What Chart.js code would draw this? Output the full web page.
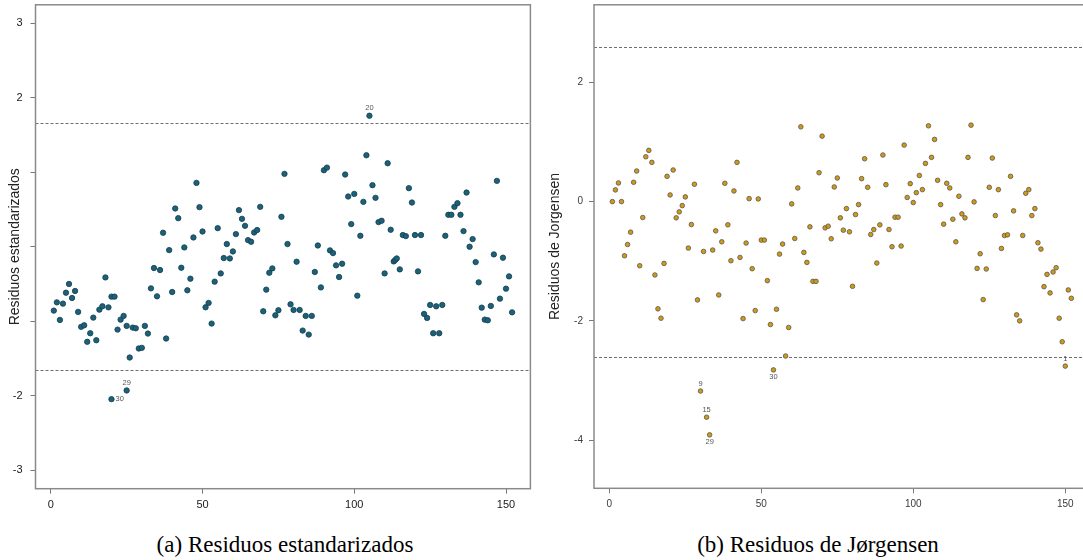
<!DOCTYPE html>
<html><head><meta charset="utf-8">
<script src="https://cdn.jsdelivr.net/npm/chart.js@4.4.1/dist/chart.umd.min.js"></script>
<style>
html,body{margin:0;padding:0;background:#fff;width:1083px;height:560px;overflow:hidden;position:relative;}
#wa{position:absolute;left:0;top:0;width:540px;height:520px;}
#wb{position:absolute;left:540px;top:0;width:560px;height:520px;}
.cap{position:absolute;top:532px;line-height:26px;font-family:'Liberation Serif',serif;font-size:23px;color:#000;white-space:nowrap;transform:translateX(-50%);}
</style></head><body>
<div id="wa"><canvas id="ca"></canvas></div>
<div id="wb"><canvas id="cb"></canvas></div>
<div class="cap" style="left:285px">(a) Residuos estandarizados</div>
<div class="cap" style="left:818px">(b) Residuos de Jørgensen</div>
<script>
// ---------- data ----------
const xTicks = [0, 50, 100, 150];
const leftYTicks = [-3, -2, -1, 0, 1, 2, 3];
const leftYTickLabels = ['-3', '-2', '', '', '', '2', '3'];
const rightYTicks = [-4, -2, 0, 2];
const rightYTickLabels = ['-4', '-2', '0', '2'];
const leftRefLines = [-1.66, 1.66];
const rightRefLines = [-2.6, 2.6];
const leftTitle = 'Residuos estandarizados';
const rightTitle = 'Residuos de Jorgensen';

const leftIndex = [1,2,3,4,5,6,7,8,9,10,11,12,13,14,15,16,17,18,19,20,20,21,22,23,24,25,25,26,27,28,29,30,
31,32,33,34,35,36,37,38,39,40,41,42,43,44,45,46,47,48,49,50,51,52,53,54,55,56,57,58,59,60,
61,62,63,64,65,66,67,68,69,70,71,72,73,74,75,76,77,78,79,80,81,82,83,84,85,86,87,88,89,90,
91,92,93,94,95,96,97,98,99,100,101,102,103,104,105,106,107,108,109,110,111,112,113,113.5,114,115,116,117,118,119,120,
121,122,123,124,125,126,127,128,129,130,131,132,133,134,135,136,137,138,139,140,141,142,143,144,145,146,147,148,149,150,151,152];
const leftResid = [-0.858,-0.747,-0.983,-0.764,-0.617,-0.500,-0.688,-0.594,-0.875,-1.076,-1.055,-1.277,-1.162,-0.952,-1.256,-0.845,-0.800,-0.412,-0.814,-0.670,-2.047,-0.670,-1.113,-0.979,-0.929,-1.063,-1.930,-1.488,-1.086,-1.095,-1.367,-1.358,
-1.063,-1.166,-0.559,-0.286,-0.666,-0.313,0.188,-1.233,-0.045,-0.608,0.514,0.384,-0.282,-0.009,-0.585,-0.429,0.125,0.858,0.532,0.205,-0.813,-0.755,-1.032,-0.469,0.250,-0.358,-0.152,0.036,-0.157,-0.063,
0.170,0.492,0.375,0.281,0.089,0.067,0.192,0.224,0.536,-0.867,-0.576,-0.349,-0.291,-0.921,-0.853,0.402,0.979,0.036,-0.773,-0.849,-0.201,-0.849,-1.126,-0.929,-1.180,-0.929,-0.339,0.017,-0.546,1.028,
1.063,-0.049,-0.085,-0.250,-0.407,-0.228,0.970,0.675,0.304,0.710,-0.657,0.147,0.603,1.229,1.760,0.827,0.657,0.331,0.349,-0.358,1.122,0.228,-0.197,-0.178,-0.157,-0.304,0.157,0.143,0.787,0.594,0.157,
-0.331,0.157,-0.902,-0.956,-0.782,-1.162,-0.800,-1.162,-0.782,0.147,0.429,0.429,0.536,0.585,0.429,0.210,0.728,0.000,0.103,-0.206,-0.478,-0.818,-0.979,-0.988,-0.795,-0.103,0.885,-0.697,-0.147,-0.563,-0.398,-0.881];

const rightIndex = [1,2,3,4,5,6,7,8,9,10,11,12,13,14,15,16,17,18,19,20,21,22,23,24,25,26,27,28,29,30,
31,32,33,34,35,36,37,38,39,40,41,42,43,44,45,46,47,48,49,50,51,52,53,54,55,56,57,58,59,60,
61,62,63,64,65,66,67,68,69,70,71,72,73,74,75,76,77,78,79,80,81,82,83,84,85,86,87,88,89,90,
91,92,93,94,95,96,97,98,99,100,101,102,103,104,105,106,107,108,109,110,111,112,113,114,115,116,117,118,119,120,
121,122,123,124,125,126,127,128,129,130,131,132,133,134,135,136,137,138,139,140,141,142,143,144,145,146,147,148,149,150,151,152];
const rightResid = [0.000,0.196,0.313,0.000,-0.908,-0.719,-0.512,0.324,0.513,-1.075,-0.267,0.752,0.859,0.658,-1.230,-1.798,-1.955,-1.036,0.424,0.112,0.530,-0.272,-0.172,-0.067,0.079,-0.779,-0.384,0.291,-1.648,-3.176,
-0.836,-3.615,-3.911,-0.812,-0.490,-1.565,-0.674,0.307,-0.389,-0.991,0.179,0.658,-0.936,-1.961,-0.695,0.050,-1.125,-1.827,0.045,-0.645,-0.645,-1.325,-2.061,-2.822,-1.805,-0.880,-0.712,-2.589,-2.111,-0.038,
-0.618,0.229,1.254,-0.852,-1.019,-0.423,-1.337,-1.337,0.485,1.098,-0.440,-0.412,-0.623,0.246,0.396,-0.272,-0.479,-0.117,-0.506,-1.420,-0.217,-0.050,0.385,0.719,0.240,-0.551,-0.468,-1.030,-0.390,0.781,
0.284,-0.468,-0.757,-0.261,-0.261,-0.745,0.948,0.070,0.301,-0.016,0.150,0.438,0.201,0.641,1.271,0.742,1.043,0.357,-0.050,-0.378,0.307,0.229,-0.295,-0.674,0.090,-0.206,-0.272,0.742,1.282,-0.005,
-1.120,-0.874,-1.643,-1.130,0.240,0.730,-0.234,0.201,-0.785,-0.568,-0.557,0.424,-0.155,-1.899,-1.999,-0.568,0.140,0.201,-0.234,-0.117,-0.690,-0.796,-1.426,-1.220,-1.531,-1.180,-1.108,-1.955,-2.350,-2.758,-1.481,-1.621];

// outlier annotations
const leftLabelX = [105, 25, 20];
const leftLabelY = [1.760, -1.930, -2.047];
const leftLabelText = ['20', '29', '30'];
const leftLabelSide = ['above', 'above', 'right'];
const rightLabelX = [30, 32, 33, 54, 150];
const rightLabelY = [-3.176, -3.615, -3.911, -2.822, -2.758];
const rightLabelText = ['9', '15', '29', '30', '1'];
const rightLabelSide = ['above', 'above', 'below', 'below', 'above'];

// ---------- drawing ----------
const framePlugin = {
  id: 'frame',
  beforeDatasetsDraw(chart, args, o) {
    const {ctx, chartArea: a, scales: {y}} = chart;
    ctx.save();
    ctx.strokeStyle = '#6e6e6e';
    ctx.lineWidth = 1;
    ctx.setLineDash([3, 2]);
    for (const v of o.refLines) {
      const py = Math.round(y.getPixelForValue(v)) + 0.5;
      ctx.beginPath(); ctx.moveTo(a.left, py); ctx.lineTo(a.right, py); ctx.stroke();
    }
    ctx.restore();
  },
  afterDatasetsDraw(chart, args, o) {
    const {ctx, chartArea: a, scales: {x, y}} = chart;
    ctx.save();
    ctx.font = '7.5px "Liberation Sans"';
    ctx.fillStyle = '#555';
    ctx.textBaseline = 'middle';
    o.labelX.forEach((lx, i) => {
      const px = x.getPixelForValue(lx), py = y.getPixelForValue(o.labelY[i]);
      const side = o.labelSide[i], t = o.labelText[i];
      if (side === 'above') { ctx.textAlign = 'center'; ctx.fillText(t, px, py - 7.5); }
      else if (side === 'below') { ctx.textAlign = 'center'; ctx.fillText(t, px, py + 7); }
      else { ctx.textAlign = 'left'; ctx.fillText(t, px + 4, py); }
    });
    ctx.strokeStyle = '#8a8a8a';
    ctx.lineWidth = 1.5;
    ctx.setLineDash([]);
    ctx.strokeRect(a.left, a.top, a.right - a.left, a.bottom - a.top);
    ctx.restore();
  }
};

function makeChart(id, c) {
  return new Chart(document.getElementById(id), {
    type: 'scatter',
    data: {
      datasets: [{
        data: c.xs.map((v, i) => ({x: v, y: c.ys[i]})),
        pointRadius: c.radius,
        pointBorderWidth: 0.8,
        backgroundColor: c.fill,
        borderColor: c.edge,
        showLine: false
      }]
    },
    options: {
      responsive: true, maintainAspectRatio: false, animation: false,
      layout: {padding: {left: 0, top: c.padTop, right: c.padRight, bottom: 0}},
      plugins: {
        legend: {display: false}, tooltip: {enabled: false},
        frame: {refLines: c.refLines, labelX: c.lx, labelY: c.ly, labelText: c.lt, labelSide: c.ls}
      },
      scales: {
        x: {
          type: 'linear', min: -5.04, max: 158.04,
          afterBuildTicks: s => { s.ticks = xTicks.map(v => ({value: v})); },
          afterFit: s => { s.height = c.xH; s.paddingLeft = 0; s.paddingRight = 0; },
          grid: {display: true, drawOnChartArea: false, drawTicks: true, tickLength: 5, color: '#777', lineWidth: 1},
          border: {display: false},
          ticks: {font: {family: 'Liberation Sans', size: c.tickSize}, color: c.tickColor, padding: 5, maxRotation: 0, autoSkip: false}
        },
        y: {
          type: 'linear', min: c.yMin, max: c.yMax,
          afterBuildTicks: s => { s.ticks = c.yTicks.map(v => ({value: v})); },
          afterFit: s => { s.width = c.yW; s.paddingTop = 0; s.paddingBottom = 0; },
          grid: {display: true, drawOnChartArea: false, drawTicks: true, tickLength: 5, color: '#777', lineWidth: 1},
          border: {display: false},
          ticks: {
            font: {family: 'Liberation Sans', size: c.tickSize}, color: c.tickColor, padding: c.yPad, autoSkip: false,
            callback: v => c.yLabels[c.yTicks.indexOf(v)]
          },
          title: {display: true, text: c.title, font: {family: 'Liberation Sans', size: 14}, color: '#222', padding: {top: 7, bottom: 0}}
        }
      }
    },
    plugins: [framePlugin]
  });
}

makeChart('ca', {
  xs: leftIndex, ys: leftResid, radius: 2.7, fill: '#1d6179', edge: '#103e4e',
  padTop: 4.3, padRight: 9.6, xH: 31.3, yW: 35.5, yPad: 8,
  yMin: -3.25, yMax: 3.25, yTicks: leftYTicks, yLabels: leftYTickLabels,
  tickSize: 11, tickColor: '#1a1a1a', title: leftTitle, refLines: leftRefLines,
  lx: leftLabelX, ly: leftLabelY, lt: leftLabelText, ls: leftLabelSide
});
makeChart('cb', {
  xs: rightIndex, ys: rightResid, radius: 2.3, fill: '#d29a12', edge: '#555555',
  padTop: 3.3, padRight: 10.3, xH: 31.7, yW: 54, yPad: 6,
  yMin: -4.807, yMax: 3.30, yTicks: rightYTicks, yLabels: rightYTickLabels,
  tickSize: 10, tickColor: '#3a3a3a', title: rightTitle, refLines: rightRefLines,
  lx: rightLabelX, ly: rightLabelY, lt: rightLabelText, ls: rightLabelSide
});
</script>
</body></html>
